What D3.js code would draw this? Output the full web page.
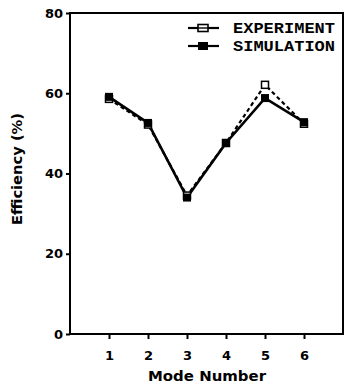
<!DOCTYPE html>
<html><head><meta charset="utf-8">
<script src="https://cdn.jsdelivr.net/npm/d3@7"></script>
<style>body{margin:0;background:#fff}svg{display:block}</style>
</head><body>
<svg id="c" width="345" height="384"></svg>
<script>
const modes = [1, 2, 3, 4, 5, 6];
const experiment = [58.6, 52.2, 34.5, 47.6, 62.1, 52.4];
const simulation = [59.1, 52.6, 34.0, 47.6, 58.8, 52.8];
const yTicks = [0, 20, 40, 60, 80];
const xTicks = [1, 2, 3, 4, 5, 6];
const seriesNames = ["EXPERIMENT", "SIMULATION"];

const svg = d3.select("#c");
const x = d3.scaleLinear().domain([0, 7]).range([70, 343]);
const y = d3.scaleLinear().domain([0, 80]).range([334, 13]);
const FONT = "DejaVu Sans, Verdana, sans-serif";

// frame
svg.append("rect").attr("x", 70).attr("y", 13).attr("width", 273).attr("height", 321)
  .attr("fill", "none").attr("stroke", "#000").attr("stroke-width", 2);

const yAxis = svg.append("g").attr("transform", "translate(70,0)")
  .call(d3.axisLeft(y).tickValues(yTicks).tickSize(4).tickPadding(3).tickFormat(d3.format("d")));
const xAxis = svg.append("g").attr("transform", "translate(0,334)")
  .call(d3.axisBottom(x).tickValues(xTicks).tickSize(5).tickPadding(12).tickFormat(d3.format("d")));
[yAxis, xAxis].forEach(g => {
  g.select(".domain").remove();
  g.selectAll("line").attr("stroke", "#000").attr("stroke-width", 2);
  g.selectAll("text").attr("font-family", FONT)
    .attr("font-weight", "bold").attr("font-size", 13).attr("fill", "#000");
});

svg.append("text").attr("x", 207).attr("y", 381).attr("text-anchor", "middle")
  .attr("font-family", FONT).attr("font-weight", "bold")
  .attr("font-size", 14).attr("textLength", 118).attr("lengthAdjust", "spacingAndGlyphs").text("Mode Number");
svg.append("text").attr("transform", "translate(22,169) rotate(-90)").attr("text-anchor", "middle")
  .attr("font-family", FONT).attr("font-weight", "bold")
  .attr("font-size", 14).attr("textLength", 112).attr("lengthAdjust", "spacingAndGlyphs").text("Efficiency (%)");

const line = d3.line().x((d, i) => x(modes[i])).y(d => y(d));

svg.append("path").datum(experiment).attr("d", line).attr("fill", "none")
  .attr("stroke", "#000").attr("stroke-width", 2.2).attr("stroke-dasharray", "4,3");
svg.append("path").datum(simulation).attr("d", line).attr("fill", "none")
  .attr("stroke", "#000").attr("stroke-width", 2.6);

svg.selectAll(".em").data(experiment).enter().append("rect")
  .attr("x", (d, i) => x(modes[i]) - 3.5).attr("y", d => y(d) - 3.5)
  .attr("width", 7).attr("height", 7).attr("fill", "#fff").attr("stroke", "#000").attr("stroke-width", 1.5);
svg.selectAll(".sm").data(simulation).enter().append("rect")
  .attr("x", (d, i) => x(modes[i]) - 4).attr("y", d => y(d) - 4)
  .attr("width", 8).attr("height", 8).attr("fill", "#000");

// legend
const lg = svg.append("g");
seriesNames.forEach((name, i) => {
  const ly = 28 + i * 18;
  lg.append("line").attr("x1", 188).attr("x2", 219).attr("y1", ly).attr("y2", ly)
    .attr("stroke", "#000").attr("stroke-width", 2.2);
  if (i === 0) {
    lg.append("rect").attr("x", 198).attr("y", ly - 3.5).attr("width", 10).attr("height", 7)
      .attr("fill", "#fff").attr("stroke", "#000").attr("stroke-width", 1.6);
    lg.append("line").attr("x1", 198).attr("x2", 208).attr("y1", ly).attr("y2", ly)
      .attr("stroke", "#000").attr("stroke-width", 1.4);
  } else {
    lg.append("rect").attr("x", 198).attr("y", ly - 4).attr("width", 10).attr("height", 8).attr("fill", "#000");
  }
  lg.append("text").attr("x", 233).attr("y", ly + 5)
    .attr("font-family", "Liberation Mono, DejaVu Sans Mono, monospace").attr("font-weight", "bold")
    .attr("font-size", 14).attr("textLength", 102).attr("lengthAdjust", "spacingAndGlyphs").text(name);
});
</script>
</body></html>
